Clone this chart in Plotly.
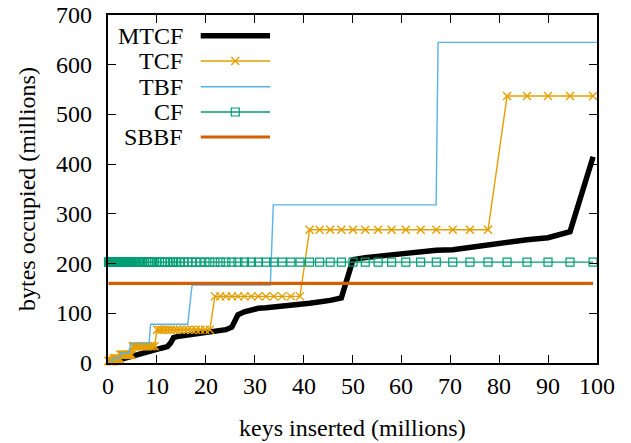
import plotly.graph_objects as go

# shared sample positions (millions of keys inserted)
X = [0.1, 0.2, 0.3, 0.4, 0.5, 0.6, 0.7, 0.8, 0.9, 0.96,
     1.01, 1.06, 1.11, 1.17, 1.23, 1.29, 1.35, 1.42, 1.49, 1.57, 1.65, 1.73, 1.81, 1.91,
     2.00, 2.10, 2.21, 2.32, 2.43, 2.55, 2.68, 2.82, 2.96,
     3.10, 3.26, 3.42, 3.59, 3.77, 3.96,
     4.16, 4.37, 4.59, 4.82,
     5.06, 5.31, 5.58, 5.85,
     6.15, 6.46, 6.78,
     7.12, 7.47, 7.85,
     8.24, 8.65,
     9.08, 9.54,
     10.02, 10.52, 11.04, 11.59, 12.17, 12.78, 13.42, 14.09, 14.80, 15.54, 16.31, 17.13, 17.99, 18.88, 19.83,
     20.82, 21.86, 22.96, 24.10, 25.31, 26.57, 27.90, 29.30, 30.76, 32.30, 33.91, 35.61, 37.39, 39.26,
     41.22, 43.28, 45.44, 47.72, 50.10, 52.61, 55.24, 58.00, 60.90, 63.94, 67.14, 70.50, 74.02, 77.72,
     81.61, 85.69, 89.98, 94.48, 99.20]

MTCF = [0.5, 0.8, 1.1, 1.4, 1.7, 2.0, 2.2, 2.5, 2.8, 3.0,
        3.2, 3.3, 3.5, 3.6, 3.8, 4.0, 4.2, 4.4, 4.6, 4.9, 5.1, 5.4, 5.6, 5.9,
        6.2, 6.5, 6.8, 7.1, 7.4, 7.8, 8.1, 8.5, 8.9,
        9.3, 9.8, 10.2, 10.7, 11.2, 11.7,
        12.3, 12.9, 13.5, 14.1,
        14.8, 15.5, 16.2, 17.0,
        17.8, 18.6, 19.4,
        20.3, 21.2, 22.2,
        23.2, 24.3,
        25.4, 26.6,
        27.8, 29.0, 30.2, 31.5, 33.0, 40.0, 51.0, 53.0, 54.0, 55.0, 56.0, 57.0, 58.0, 59.0, 60.0,
        61.0, 62.0, 64.0, 67.0, 72.0, 97.0, 103.0, 107.0, 110.0, 111.0, 112.0, 114.0, 116.0, 118.0,
        120.0, 122.0, 126.0, 131.0, 208.0, 212.0, 215.0, 218.0, 221.0, 224.0, 227.0, 228.0, 233.0, 237.0,
        242.0, 248.0, 252.0, 264.0, 415.0]

TCF = [4.2, 4.2, 4.2, 4.2, 4.2, 4.2, 4.2, 4.2, 4.2, 4.2, 4.2, 4.2, 4.2, 4.2,
       8.4, 8.4, 8.4, 8.4, 8.4, 8.4, 8.4, 8.4, 8.4, 8.4, 8.4, 8.4, 8.4, 8.4, 8.4,
       16.8, 16.8, 16.8, 16.8, 16.8, 16.8, 16.8, 16.8, 16.8, 16.8, 16.8, 16.8, 16.8, 16.8,
       33.6, 33.6, 33.6, 33.6, 33.6, 33.6, 33.6, 33.6, 33.6, 33.6, 33.6, 33.6, 33.6, 33.6,
       67, 67, 67, 67, 67, 67, 67, 67, 67, 67, 67, 67, 67, 67, 67, 67,
       134, 134, 134, 134, 134, 134, 134, 134, 134, 134, 134, 134, 134,
       268, 268, 268, 268, 268, 268, 268, 268, 268, 268, 268, 268, 268, 268,
       537, 537, 537, 537, 537]

CF_LEVEL = 203
SBBF_LEVEL = 160
CF = [CF_LEVEL for _ in X]
SBBF = [SBBF_LEVEL for _ in X]

TBF_X = [0.3, 1.0, 1.2, 2.4, 2.6, 4.3, 4.6, 8.4, 8.7, 16.3, 17.2, 33.2, 33.8, 67.1, 67.5, 100]
TBF_Y = [5, 5, 10, 10, 20, 20, 39, 39, 78, 78, 157, 157, 318, 318, 645, 645]

X_TICKS = [0, 10, 20, 30, 40, 50, 60, 70, 80, 90, 100]
Y_TICKS = [0, 100, 200, 300, 400, 500, 600, 700]
X_TITLE = "keys inserted (millions)"
Y_TITLE = "bytes occupied (millions)"
NAMES = ["MTCF", "TCF", "TBF", "CF", "SBBF"]

C_MTCF = "#000000"
C_TCF = "#E69F00"
C_TBF = "#56B4E9"
C_CF = "#009E73"
C_SBBF = "#D55E00"

FONT = "Liberation Serif"
TXT = dict(family=FONT, size=24, color="black")

fig = go.Figure()
fig.add_trace(go.Scatter(x=X, y=MTCF, mode="lines", line=dict(color=C_MTCF, width=5.5), name="MTCF"))
fig.add_trace(go.Scatter(x=X, y=TCF, mode="lines+markers", line=dict(color=C_TCF, width=1.4),
                         marker=dict(symbol="x-thin-open", size=8, line=dict(color=C_TCF, width=1.4)),
                         cliponaxis=False, name="TCF"))
fig.add_trace(go.Scatter(x=TBF_X, y=TBF_Y, mode="lines", line=dict(color=C_TBF, width=1.4), name="TBF"))
fig.add_trace(go.Scatter(x=X, y=CF, mode="lines+markers", line=dict(color=C_CF, width=1.4),
                         marker=dict(symbol="square-open", size=8, line=dict(color=C_CF, width=1.2)),
                         cliponaxis=False, name="CF"))
fig.add_trace(go.Scatter(x=X, y=SBBF, mode="lines", line=dict(color=C_SBBF, width=3.2), name="SBBF"))

# manual legend (text to the left of the sample), in paper coordinates
PW, PH = 489.0, 348.0
leg_rows = [0.9405, 0.8678, 0.7940, 0.7213, 0.6494]
leg_widths = [5.5, 1.4, 1.4, 1.4, 3.2]
leg_colors = [C_MTCF, C_TCF, C_TBF, C_CF, C_SBBF]
LX0, LX1, LXM, LTX = 0.1896, 0.3313, 0.2603, 0.1575
dx, dy = 4.0 / PW, 4.0 / PH
for name, yy, w, c in zip(NAMES, leg_rows, leg_widths, leg_colors):
    fig.add_shape(type="line", xref="paper", yref="paper", x0=LX0, x1=LX1, y0=yy, y1=yy,
                  line=dict(color=c, width=w))
    fig.add_annotation(x=LTX, y=yy, xref="paper", yref="paper", text=name, showarrow=False,
                       xanchor="right", yanchor="middle", font=TXT)
# TCF legend marker (x)
fig.add_shape(type="line", xref="paper", yref="paper", x0=LXM - dx, x1=LXM + dx,
              y0=leg_rows[1] - dy, y1=leg_rows[1] + dy, line=dict(color=C_TCF, width=1.4))
fig.add_shape(type="line", xref="paper", yref="paper", x0=LXM - dx, x1=LXM + dx,
              y0=leg_rows[1] + dy, y1=leg_rows[1] - dy, line=dict(color=C_TCF, width=1.4))
# CF legend marker (open square)
fig.add_shape(type="rect", xref="paper", yref="paper", x0=LXM - dx, x1=LXM + dx,
              y0=leg_rows[3] - dy, y1=leg_rows[3] + dy, line=dict(color=C_CF, width=1.2),
              fillcolor="rgba(0,0,0,0)")

# tick labels and axis titles as text placed on the axes' own scales
for v in X_TICKS:
    fig.add_annotation(x=v, y=0, xref="x", yref="paper", text=str(v), showarrow=False,
                       xanchor="center", yanchor="top", yshift=-8, font=TXT)
for v in Y_TICKS:
    fig.add_annotation(x=0, y=v, xref="paper", yref="y", text=str(v), showarrow=False,
                       xanchor="right", yanchor="middle", xshift=-14, font=TXT)
fig.add_annotation(x=0.5, y=0, xref="paper", yref="paper", text=X_TITLE, showarrow=False,
                   xanchor="center", yanchor="middle", yshift=-65, font=TXT)
fig.add_annotation(x=0, y=0.5, xref="paper", yref="paper", text=Y_TITLE, showarrow=False,
                   textangle=-90, xanchor="center", yanchor="middle", xshift=-81, font=TXT)

axis_common = dict(showgrid=False, zeroline=False, showline=True, linecolor="black", linewidth=1.5,
                   mirror="allticks", ticks="inside", ticklen=8, tickwidth=1, tickcolor="black",
                   automargin=False, showticklabels=False)

fig.update_layout(
    width=631, height=443,
    margin=dict(l=108, r=34, t=15, b=80, autoexpand=False),
    plot_bgcolor="white", paper_bgcolor="white",
    showlegend=False,
    font=TXT,
    xaxis=dict(range=[0, 100], tickvals=X_TICKS, **axis_common),
    yaxis=dict(range=[0, 700], tickvals=Y_TICKS, **axis_common),
)

POST = """
document.body.style.margin='0';
var gd = document.getElementById('{plot_id}');
function refont(){
  gd.querySelectorAll('text').forEach(function(t){
    var f = t.style.fontFamily;
    t.style.fontFamily = 'monospace';
    t.getBBox();
    t.style.fontFamily = f;
  });
}
refont();
requestAnimationFrame(refont);
setTimeout(refont, 30);
"""

fig.write_html("out.html", config={"displayModeBar": False}, post_script=POST)
